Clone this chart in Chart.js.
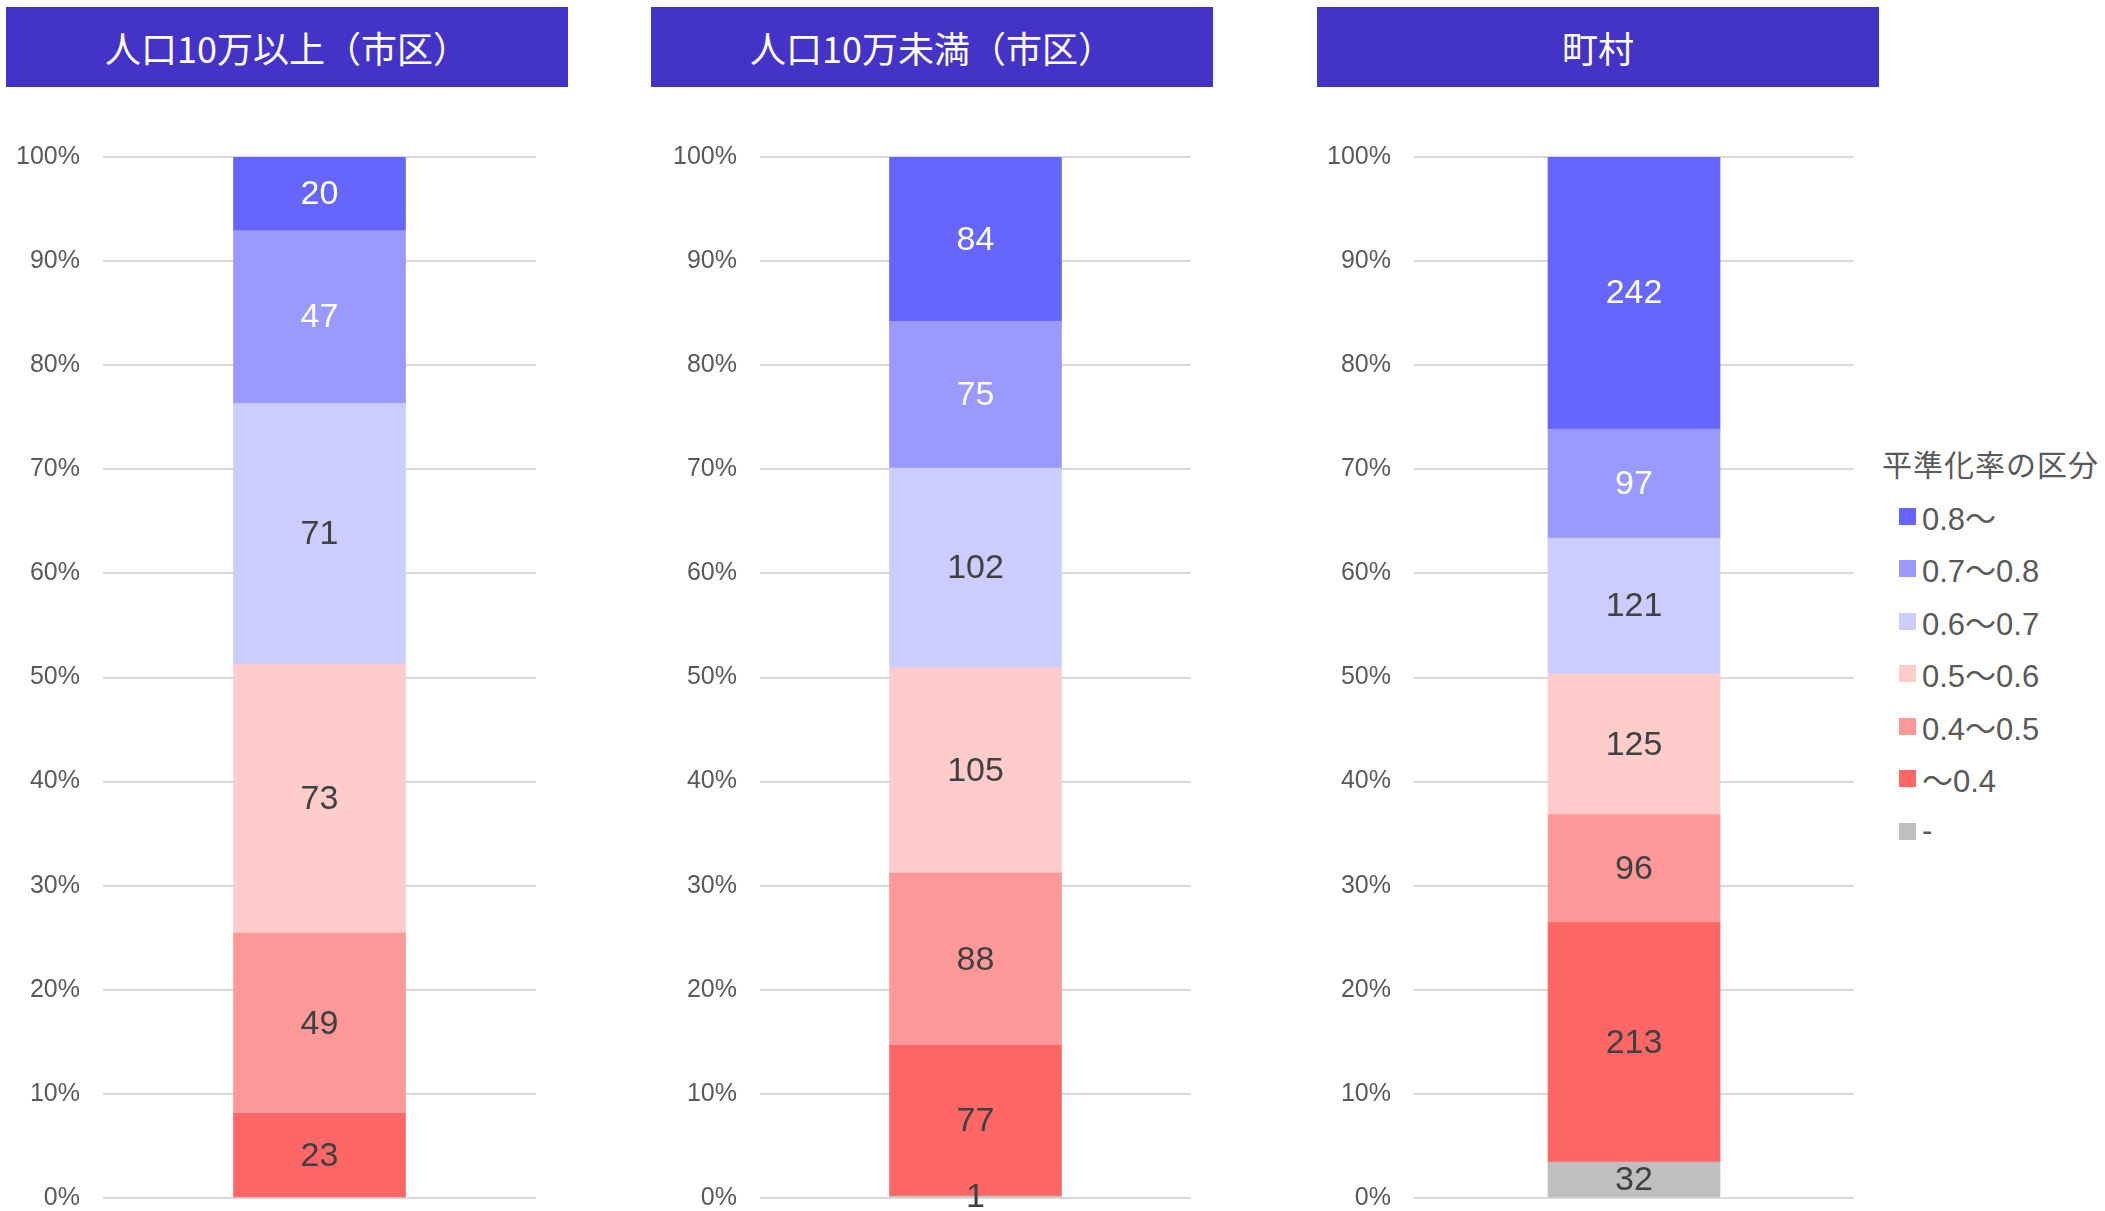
<!DOCTYPE html>
<html lang="ja">
<head>
<meta charset="utf-8">
<title>平準化率の区分</title>
<script src="https://cdn.jsdelivr.net/npm/chart.js@4.4.1/dist/chart.umd.min.js"></script>
<style>
  html, body { margin: 0; padding: 0; background: #fff; }
  body { width: 2105px; height: 1211px; position: relative; overflow: hidden;
         font-family: 'Liberation Sans', 'Noto Sans CJK JP', sans-serif; }
  .titulo { position: absolute; top: 7px; height: 80px; width: 562px; background: #4333c7;
            color: #fff; font: 36px 'Noto Sans CJK JP', sans-serif; display: flex;
            align-items: center; justify-content: center; }
  canvas { position: absolute; top: 0; }
  #legenda { position: absolute; left: 1882px; top: 441px; color: #595959; }
  #legenda .cab { font: 30px 'Noto Sans CJK JP', sans-serif; letter-spacing: 1px; height: 44px; line-height: 44px; margin-bottom: 5px; }
  #legenda .item { height: 52.5px; display: flex; align-items: center; font: 31px 'Liberation Sans', 'Noto Sans CJK JP', sans-serif; }
  #legenda .caixa { width: 17px; height: 17px; margin-left: 17px; margin-right: 6px; }
</style>
</head>
<body>

<div class="titulo" style="left:6px">人口10万以上（市区）</div>
<div class="titulo" style="left:651px">人口10万未満（市区）</div>
<div class="titulo" style="left:1317px">町村</div>

<!-- o canvas passa um pouco da borda de baixo: o eixo y reserva label/2 + padding embaixo -->
<canvas id="g1" width="536" height="1236" style="left:0px"></canvas>
<canvas id="g2" width="534" height="1236" style="left:657px"></canvas>
<canvas id="g3" width="543" height="1236" style="left:1311px"></canvas>

<div id="legenda"></div>

<script>
// Categorias (ordem da legenda, de cima para baixo)
const categorias = ['0.8～', '0.7～0.8', '0.6～0.7', '0.5～0.6', '0.4～0.5', '～0.4', '-'];
const cores = ['#6666ff', '#9999ff', '#ccccff', '#ffcccc', '#ff9999', '#ff6666', '#bfbfbf'];
const corTexto = ['#ffffff', '#ffffff', '#404040', '#404040', '#404040', '#404040', '#404040'];

// Quantidades por grupo (mesma ordem das categorias)
const grupoMaior = [20, 47, 71, 73, 49, 23, 0];     // 人口10万以上（市区）
const grupoMenor = [84, 75, 102, 105, 88, 77, 1];   // 人口10万未満（市区）
const grupoMachi = [242, 97, 121, 125, 96, 213, 32]; // 町村

const ticksY = [0, 10, 20, 30, 40, 50, 60, 70, 80, 90, 100];

// Plugin simples para escrever as quantidades dentro das barras
const rotulos = {
  id: 'rotulos',
  afterDatasetsDraw(chart) {
    const ctx = chart.ctx;
    ctx.save();
    ctx.font = '34px "Liberation Sans", Arial, sans-serif';
    ctx.textAlign = 'center';
    ctx.textBaseline = 'middle';
    chart.data.datasets.forEach((ds, i) => {
      const meta = chart.getDatasetMeta(i);
      meta.data.forEach((bar, j) => {
        const n = ds.contagem[j];
        if (!n) return;
        ctx.fillStyle = ds.corRotulo;
        ctx.fillText(String(n), bar.x, (bar.y + bar.base) / 2 + 1);
      });
    });
    ctx.restore();
  }
};

function criarGrafico(id, valores) {
  const total = valores.reduce((a, b) => a + b, 0);
  // empilha de baixo para cima: '-' primeiro, '0.8～' por último
  const datasets = categorias.map((cat, k) => ({
    label: cat,
    data: [valores[k] / total * 100],
    contagem: [valores[k]],
    backgroundColor: cores[k],
    corRotulo: corTexto[k],
    borderWidth: 0,
    barThickness: 172
  })).reverse();

  return new Chart(document.getElementById(id), {
    type: 'bar',
    data: { labels: [''], datasets: datasets },
    options: {
      responsive: false,
      animation: false,
      layout: { padding: { top: 157, bottom: 0, left: 0, right: 0 } },
      plugins: { legend: { display: false }, tooltip: { enabled: false } },
      scales: {
        x: { stacked: true, display: false },
        y: {
          stacked: true,
          min: 0,
          max: 100,
          afterFit: (s) => { s.width = 103; },
          afterBuildTicks: (s) => { s.ticks = ticksY.map(v => ({ value: v })); },
          border: { display: false },
          grid: { color: '#d9d9d9', lineWidth: 2, drawTicks: false },
          ticks: {
            padding: 23,
            color: '#595959',
            font: { family: "'Liberation Sans', Arial, sans-serif", size: 25 },
            callback: (v) => v + '%'
          }
        }
      }
    },
    plugins: [rotulos]
  });
}

criarGrafico('g1', grupoMaior);
criarGrafico('g2', grupoMenor);
criarGrafico('g3', grupoMachi);

// Legenda
const legenda = document.getElementById('legenda');
let html = '<div class="cab">平準化率の区分</div>';
categorias.forEach((cat, k) => {
  html += '<div class="item"><span class="caixa" style="background:' + cores[k] + '"></span>' + cat + '</div>';
});
legenda.innerHTML = html;
</script>
</body>
</html>
